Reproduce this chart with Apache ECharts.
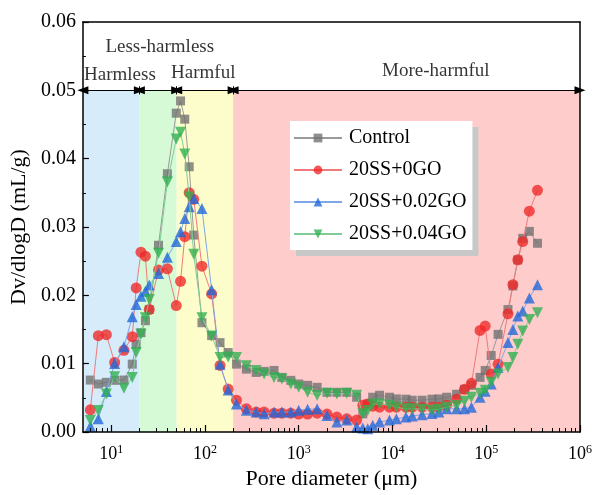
<!DOCTYPE html>
<html>
<head>
<meta charset="utf-8">
<script src="https://cdn.jsdelivr.net/npm/echarts@6/dist/echarts.min.js"></script>
<style>
html,body{margin:0;padding:0;background:#fff;}
#chart{width:595px;height:495px;}
</style>
</head>
<body>
<div id="chart"></div>
<script>
// ---- data ----
const diameters = [6.0, 7.3, 8.9, 10.9, 13.7, 16.8, 18.5, 20.8, 23.2, 25.5, 32, 39.8, 49.5, 55, 61, 68, 76, 93, 118, 145,
  177, 217, 277, 352, 428, 546, 662, 824, 1000, 1245, 1574, 2005, 2555, 3258, 4150, 4831, 5454, 6158, 7290, 9294,
  11015, 13930, 16250, 20720, 26380, 31240, 37930, 48330, 58630, 69500, 85900, 97500, 113000, 133800, 170500, 192500, 217200, 245000, 288400, 352000];

const control = [0.00760, 0.00702, 0.00727, 0.00756, 0.00760, 0.00993, 0.01283, 0.01453, 0.01628, 0.01792, 0.02733, 0.03779, 0.04666, 0.04845, 0.04578, 0.03881, 0.02882, 0.01599, 0.01410, 0.01308,
  0.01163, 0.00993, 0.00920, 0.00872, 0.00887, 0.00901, 0.00799, 0.00756, 0.00702, 0.00683, 0.00654, 0.00581, 0.00581, 0.00581, 0.00509, 0.00266, 0.00411, 0.00509, 0.00538, 0.00509,
  0.00484, 0.00480, 0.00465, 0.00465, 0.00480, 0.00484, 0.00509, 0.00552, 0.00625, 0.00683, 0.00799, 0.00901, 0.01119, 0.01429, 0.01792, 0.02137, 0.02519, 0.02834, 0.02936, 0.02762];

const ss0GO = [0.00324, 0.01410, 0.01424, 0.01017, 0.01196, 0.01395, 0.02108, 0.02631, 0.02573, 0.01792, 0.02369, 0.02388, 0.01850, 0.02205, 0.02859, 0.03503, 0.03405, 0.02427, 0.02020, 0.00974,
  0.00629, 0.00465, 0.00339, 0.00291, 0.00291, 0.00276, 0.00276, 0.00276, 0.00262, 0.00262, 0.00276, 0.00262, 0.00218, 0.00193, 0.00174, 0.00392, 0.00411, 0.00378, 0.00363, 0.00363,
  0.00363, 0.00363, 0.00363, 0.00363, 0.00363, 0.00363, 0.00392, 0.00480, 0.00625, 0.00712, 0.01487, 0.01551, 0.00847, 0.00993, 0.01730, 0.02156, 0.02519, 0.02786, 0.03231, 0.03536];

const ss002GO = [0.00083, 0.00193, 0.00592, 0.01003, 0.01246, 0.01686, 0.01865, 0.01987, 0.02060, 0.02151, 0.02318, 0.02558, 0.02786, 0.02932, 0.03125, 0.03295, 0.03416, 0.03270, 0.02083, 0.00993,
  0.00615, 0.00411, 0.00320, 0.00291, 0.00266, 0.00291, 0.00291, 0.00291, 0.00320, 0.00334, 0.00339, 0.00243, 0.00145, 0.00174, 0.00073, 0.00058, 0.00048, 0.00097, 0.00145, 0.00174,
  0.00193, 0.00218, 0.00233, 0.00254, 0.00269, 0.00291, 0.00339, 0.00339, 0.00339, 0.00363, 0.00509, 0.00596, 0.00702, 0.00945, 0.01308, 0.01501, 0.01696, 0.01769, 0.01962, 0.02156];

const ss004GO = [0.00170, 0.00315, 0.00557, 0.00810, 0.00640, 0.00799, 0.01163, 0.01429, 0.01672, 0.01938, 0.02616, 0.03658, 0.04288, 0.04385, 0.04070, 0.03440, 0.02602, 0.01672, 0.01406, 0.01090,
  0.01097, 0.01090, 0.00969, 0.00901, 0.00847, 0.00799, 0.00775, 0.00702, 0.00654, 0.00581, 0.00533, 0.00567, 0.00557, 0.00567, 0.00538, 0.00266, 0.00315, 0.00407, 0.00411, 0.00392,
  0.00363, 0.00339, 0.00339, 0.00334, 0.00320, 0.00334, 0.00363, 0.00388, 0.00451, 0.00509, 0.00567, 0.00610, 0.00727, 0.00847, 0.00945, 0.01090, 0.01283, 0.01478, 0.01647, 0.01744];

const seriesNames = ['Control', '20SS+0GO', '20SS+0.02GO', '20SS+0.04GO'];
const zoneBounds = [5, 20, 50, 200, 1000000];
const zoneNames = ['Harmless', 'Less-harmless', 'Harmful', 'More-harmful'];
const zoneTop = 0.05;
const xMajorTicks = [10, 100, 1000, 10000, 100000, 1000000];
const yTicks = [0, 0.01, 0.02, 0.03, 0.04, 0.05, 0.06];

// ---- styling ----
const FONT = 'Liberation Serif';
const markerColors = ['#6f6f6f', '#f02828', '#1f66d8', '#2faf50'];
const lineColors = ['#9a9a9a', '#f07a7a', '#7fa6e6', '#7fcc96'];
const symbols = ['rect', 'circle', 'triangle', 'triangle'];
const symbolRot = [0, 0, 0, 180];
const symbolSz = [9, 11, 11, 11];
const zoneColors = ['#d6ecfb', '#d5fad5', '#fdfdcb', '#ffcccc'];
const zoneLabelPos = [[12.4, 0.0523], [33, 0.0563], [96, 0.0525], [29000, 0.0529]];

const xMinor = [];
for (let e = 0; e < 6; e++) {
  for (let k = 2; k <= 9; k++) {
    const v = k * Math.pow(10, e);
    if (v > 5 && v < 1000000) xMinor.push(v);
  }
}

const seriesValues = [control, ss0GO, ss002GO, ss004GO];
const dataSeries = seriesValues.map((vals, i) => ({
  name: seriesNames[i],
  type: 'line',
  xAxisIndex: 0, yAxisIndex: 0,
  data: diameters.map((d, j) => [d, vals[j]]),
  symbol: symbols[i],
  symbolRotate: symbolRot[i],
  symbolSize: symbolSz[i],
  showAllSymbol: true,
  z: 3 + i,
  lineStyle: { color: lineColors[i], width: 1 },
  itemStyle: { color: markerColors[i], opacity: 0.78 },
  emphasis: { disabled: true }
}));

const areaData = zoneColors.map((c, i) => [
  { xAxis: zoneBounds[i], yAxis: 0, itemStyle: { color: c } },
  { xAxis: zoneBounds[i + 1], yAxis: zoneTop }
]);

const arrowData = [];
for (let i = 0; i < zoneNames.length; i++) {
  arrowData.push([{ coord: [zoneBounds[i], zoneTop] }, { coord: [zoneBounds[i + 1], zoneTop] }]);
}
for (let i = 1; i < zoneNames.length; i++) {
  arrowData.push([
    { coord: [zoneBounds[i], zoneTop - 0.0006], symbol: 'none' },
    { coord: [zoneBounds[i], zoneTop + 0.0006], symbol: 'none' }
  ]);
}

const zoneSeries = {
  name: 'zones',
  type: 'line',
  xAxisIndex: 0, yAxisIndex: 0,
  data: [],
  z: 1,
  silent: true,
  markArea: { silent: true, data: areaData, itemStyle: { opacity: 1 } },
  markLine: {
    silent: true,
    symbol: ['triangle', 'triangle'],
    symbolSize: [8, 11],
    label: { show: false },
    lineStyle: { color: '#000', width: 1, type: 'solid' },
    itemStyle: { color: '#000' },
    emphasis: { disabled: true },
    data: arrowData
  }
};

const zoneTextSeries = {
  name: 'zoneText',
  type: 'scatter',
  xAxisIndex: 0, yAxisIndex: 0,
  z: 10,
  silent: true,
  symbolSize: 1,
  itemStyle: { color: 'rgba(0,0,0,0)' },
  data: zoneLabelPos.map((p, i) => ({ value: p, name: zoneNames[i] })),
  label: {
    show: true, position: 'inside', formatter: p => p.name,
    fontFamily: FONT, fontSize: 19, color: '#000'
  }
};

const chart = echarts.init(document.getElementById('chart'), null, { renderer: 'canvas' });
chart.setOption({
  animation: false,
  backgroundColor: '#fff',
  grid: { left: 79, right: 14, top: 22, bottom: 60, containLabel: false },
  legend: {
    data: seriesNames,
    orient: 'vertical',
    left: 290, top: 121,
    padding: [7, 6, 6, 3],
    itemWidth: 48, itemHeight: 11, itemGap: 12,
    backgroundColor: '#fff',
    shadowColor: '#c8c8c8', shadowBlur: 0, shadowOffsetX: 6, shadowOffsetY: 6,
    textStyle: { fontFamily: FONT, fontSize: 20, color: '#000', padding: [0, 0, 0, 2] }
  },
  xAxis: [
    {
      type: 'log', logBase: 10, min: 5, max: 1000000, position: 'bottom', z: 20,
      name: 'Pore diameter (\u03bcm)', nameLocation: 'middle', nameGap: 36,
      nameTextStyle: { fontFamily: FONT, fontSize: 22, color: '#000' },
      axisLine: { show: true, lineStyle: { color: '#000', width: 1.5 } },
      axisTick: { show: true, inside: true, length: 7, customValues: xMajorTicks, lineStyle: { color: '#000', width: 1.2 } },
      axisLabel: {
        show: true, margin: 12, customValues: xMajorTicks,
        formatter: v => '10{sup|' + Math.round(Math.log10(v)) + '}',
        fontFamily: FONT, fontSize: 18, color: '#000',
        rich: { sup: { fontFamily: FONT, fontSize: 12, color: '#000', verticalAlign: 'top', padding: [0, 0, 8, 0] } }
      },
      splitLine: { show: false }, minorTick: { show: false }
    },
    {
      type: 'log', logBase: 10, min: 5, max: 1000000, position: 'bottom', z: 20,
      axisLine: { show: false },
      axisTick: { show: true, inside: true, length: 4, customValues: xMinor, lineStyle: { color: '#000', width: 1 } },
      axisLabel: { show: false }, splitLine: { show: false }
    },
    {
      type: 'log', logBase: 10, min: 5, max: 1000000, position: 'top', z: 20,
      axisLine: { show: true, lineStyle: { color: '#000', width: 1.5 } },
      axisTick: { show: false }, axisLabel: { show: false }, splitLine: { show: false }
    }
  ],
  yAxis: [
    {
      type: 'value', min: 0, max: 0.06, interval: 0.01, position: 'left', z: 20,
      name: 'Dv/dlogD (mL/g)', nameLocation: 'middle', nameGap: 48,
      nameTextStyle: { fontFamily: FONT, fontSize: 22, color: '#000' },
      axisLine: { show: true, lineStyle: { color: '#000', width: 1.5 } },
      axisTick: { show: true, inside: true, length: 6, lineStyle: { color: '#000', width: 1.2 } },
      minorTick: { show: true, splitNumber: 2, length: 3, lineStyle: { color: '#000', width: 1 } },
      axisLabel: { margin: 7, formatter: v => v.toFixed(2), fontFamily: FONT, fontSize: 20, color: '#000' },
      splitLine: { show: false }
    },
    {
      type: 'value', min: 0, max: 0.06, interval: 0.01, position: 'right', z: 20,
      axisLine: { show: true, lineStyle: { color: '#000', width: 1.5 } },
      axisTick: { show: false }, axisLabel: { show: false }, splitLine: { show: false }
    }
  ],
  series: [zoneSeries].concat(dataSeries).concat([zoneTextSeries])
});
</script>
</body>
</html>
